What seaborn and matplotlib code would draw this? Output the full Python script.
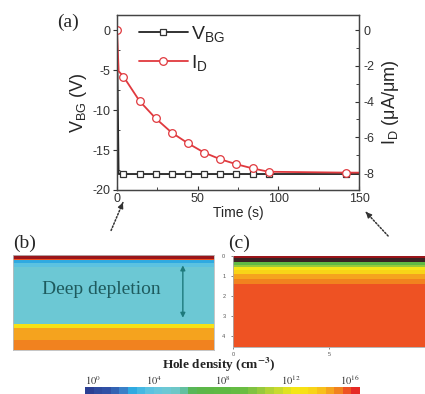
import numpy as np
import pandas as pd
import matplotlib
matplotlib.use("Agg")
import matplotlib.pyplot as plt
import seaborn as sns
from matplotlib.colors import ListedColormap, Normalize
from matplotlib.cm import ScalarMappable

# ---------------- data ----------------
time_v = [0, 1, 4, 14, 24, 34, 44, 54, 64, 74, 84, 94, 142, 150]
vbg = [0, -18, -18, -18, -18, -18, -18, -18, -18, -18, -18, -18, -18, -18]
time_i = [0, 1, 4, 14, 24, 34, 44, 54, 64, 74, 84, 94, 142, 150]
id_vals = [0, -2.3, -2.6, -3.97, -4.94, -5.74, -6.33, -6.85, -7.22, -7.5, -7.73, -7.92, -7.97, -7.97]

left_ticks = [0, -5, -10, -15, -20]
right_ticks = [0, -2, -4, -6, -8]
x_ticks = [0, 50, 100, 150]

# hole density (log10 cm^-3) layers, top to bottom: value, thickness (rows)
b_levels = [17, 15.2, 2.7, 3.7, 4.7, 12.7, 14.2, 14.7]
b_rows = [4, 1, 3, 4, 57, 4, 12, 10]
c_levels = [17, -1, 7.5, 10.2, 12.3, 13.3, 14.2, 14.7, 15.2]
c_rows = [2, 4, 3, 2, 3, 4, 5, 5, 63]
c_depth_ticks = [0, 1, 2, 3, 4]
c_x_ticks = [0, 5]
cbar_ticks = [0, 4, 8, 12, 16]
cbar_labels = ['$10^{0}$', '$10^{4}$', '$10^{8}$', '$10^{12}$', '$10^{16}$']

cmap_colors = ['#2B3F93', '#2E4A9E', '#3050A5', '#3363B3', '#3A80C8', '#2FAAE1',
               '#45B8E3', '#5BC2E1', '#66C6DC', '#6CC8D4', '#6DC7C7', '#62C0A0',
               '#58B658', '#5BB64A', '#5DB746', '#5FB944', '#5FB944', '#64BB43',
               '#6ABD42', '#80C241', '#97C93C', '#B2D235', '#C8DA2E', '#E0E221',
               '#F4E615', '#F7E115', '#F8D418', '#F8C01A', '#F5A31E', '#F1821F',
               '#EE5223', '#E62A26']

# ---------------- style ----------------
sns.set_style("ticks")
plt.rcParams['font.family'] = ['Liberation Sans', 'DejaVu Sans']
plt.rcParams['mathtext.fontset'] = 'stix'
plt.rcParams['axes.unicode_minus'] = False

fig = plt.figure(figsize=(4.25, 3.94), dpi=100)
W, H = 425.0, 394.0

def box(l, t, r, b):
    return [l / W, 1 - b / H, (r - l) / W, (b - t) / H]

# ---------------- panel (a) ----------------
ax = fig.add_axes(box(117, 15, 359, 190))
ax2 = ax.twinx()
dv = pd.DataFrame({'t': time_v, 'v': vbg})
di = pd.DataFrame({'t': time_i, 'i': id_vals})
sns.lineplot(data=dv, x='t', y='v', ax=ax, color='#222222', lw=1.3, marker='s',
             markersize=5, markerfacecolor='white', markeredgecolor='#333333',
             markeredgewidth=0.9, markevery=list(range(2, len(time_v) - 1)),
             estimator=None, sort=False, label=r'$\mathregular{V_{BG}}$', legend=False)
sns.lineplot(data=di, x='t', y='i', ax=ax2, color='#E0393E', lw=1.3, marker='o',
             markersize=5.5, markerfacecolor='white', markeredgecolor='#E0393E',
             markeredgewidth=0.9, markevery=[0] + list(range(2, len(time_i) - 1)),
             estimator=None, sort=False, label=r'$\mathregular{I_D}$', legend=False)
ax.set_xlim(0, 150)
ax.set_ylim(-20, 1.9)
ax2.set_ylim(-8.94, 0.84)
ax.set_xticks(x_ticks)
ax.set_xticks([25, 75, 125], minor=True)
ax.set_yticks(left_ticks)
ax.set_yticks([-2.5, -7.5, -12.5, -17.5], minor=True)
ax2.set_yticks(right_ticks)
ax2.set_yticks([-1, -3, -5, -7], minor=True)
ax.tick_params(axis='x', direction='in', labelsize=9, length=3, pad=2, colors='#333333')
ax.tick_params(axis='x', which='minor', direction='in', length=2)
ax.tick_params(axis='y', direction='out', labelsize=9, length=3, pad=2, colors='#333333')
ax.tick_params(axis='y', which='minor', direction='in', length=2)
ax2.tick_params(axis='y', direction='in', labelsize=9, length=3, pad=3, colors='#333333')
ax2.tick_params(axis='y', which='minor', direction='in', length=2)
for a in (ax, ax2):
    for s in a.spines.values():
        s.set_color('#444444')
        s.set_linewidth(0.9)
ax.set_xlabel('Time (s)', fontsize=10, labelpad=1)
ax.set_ylabel(r'$\mathregular{V_{BG}}$ (V)', fontsize=13, labelpad=2)
ax2.set_ylabel(r'$\mathregular{I_D}$ ($\mathregular{\mu}$A/$\mathregular{\mu}$m)', fontsize=13, labelpad=4)
h1, l1 = ax.get_legend_handles_labels()
h2, l2 = ax2.get_legend_handles_labels()
ax2.legend(h1 + h2, l1 + l2, loc='upper left', bbox_to_anchor=(0.075, 0.97),
           frameon=False, fontsize=14, handlelength=2.5, handletextpad=0.15,
           labelspacing=0.45, borderpad=0.2, borderaxespad=0)

fig.text(57 / W, 1 - 22 / H, '(a)', family='Liberation Serif', fontsize=14,
         ha='left', va='center')

# ---------------- colormap ----------------
cmap = ListedColormap(cmap_colors)
cmap.set_over('#9A151A')
cmap.set_under('#3A2424')

# ---------------- panel (b) ----------------
axb = fig.add_axes(box(13, 255, 214, 350))
b_prof = np.repeat(b_levels, b_rows)
b_data = np.tile(b_prof[:, None], (1, 20))
sns.heatmap(b_data, ax=axb, cmap=cmap, vmin=0, vmax=16, cbar=False,
            xticklabels=False, yticklabels=False)
for s in axb.spines.values():
    s.set_visible(True)
    s.set_color('#BBBBBB')
    s.set_linewidth(0.6)
axb.text(0.44, 0.64, 'Deep depletion', transform=axb.transAxes, family='Liberation Serif',
         fontsize=14, color='#1E5B5E', ha='center', va='center')
axb.annotate('', xy=(0.845, 0.92), xytext=(0.845, 0.31), xycoords='axes fraction',
             arrowprops=dict(arrowstyle='<|-|>', color='#1E7A7C', lw=1.0,
                             mutation_scale=7))
fig.text(13 / W, 1 - 243 / H, '(b)', family='Liberation Serif', fontsize=14,
         ha='left', va='center')

# ---------------- panel (c) ----------------
axc = fig.add_axes(box(233, 256, 425, 347))
c_prof = np.repeat(c_levels, c_rows)
c_data = np.tile(c_prof[:, None], (1, 10))
sns.heatmap(c_data, ax=axc, cmap=cmap, vmin=0, vmax=16, cbar=False,
            xticklabels=False, yticklabels=False)
axc.set_yticks([d * 20 for d in c_depth_ticks])
axc.set_yticklabels([str(d) for d in c_depth_ticks])
axc.set_xticks(c_x_ticks)
axc.set_xticklabels([str(x) for x in c_x_ticks])
axc.tick_params(axis='y', labelsize=4, length=1.5, width=0.5, colors='#555555', pad=4)
axc.tick_params(axis='x', labelsize=4, length=1.5, width=0.5, colors='#555555', pad=2)
for side in ('left', 'bottom'):
    axc.spines[side].set_visible(True)
    axc.spines[side].set_color('#AAAAAA')
    axc.spines[side].set_linewidth(0.6)
fig.text(228 / W, 1 - 243 / H, '(c)', family='Liberation Serif', fontsize=14,
         ha='left', va='center')

# ---------------- colorbar ----------------
cax = fig.add_axes(box(85, 387, 360, 396))
sm = ScalarMappable(norm=Normalize(0, 16), cmap=ListedColormap(cmap_colors))
cb = fig.colorbar(sm, cax=cax, orientation='horizontal')
cb.outline.set_visible(False)
cax.xaxis.set_ticks_position('top')
cax.set_xticks(cbar_ticks)
cax.set_xticklabels(cbar_labels, fontsize=7.5, color='#333333')
cax.tick_params(length=0, pad=0)
labs = cax.get_xticklabels()
labs[0].set_ha('left')
labs[-1].set_ha('right')
fig.text(219 / W, 1 - 365 / H, r'Hole density (cm$^{\mathbf{-3}}$)', family='Liberation Serif',
         fontsize=9.5, fontweight='bold', ha='center', va='center', color='#222222')

# ---------------- pointer arrows ----------------
for (x0, y0, x1, y1) in [(110, 233, 124, 200), (390, 238, 364, 210)]:
    fig.add_artist(matplotlib.patches.FancyArrowPatch(
        (x0 / W, 1 - y0 / H), (x1 / W, 1 - y1 / H), transform=fig.transFigure,
        arrowstyle='-', linestyle=(0, (1, 1.2)), color='#333333', lw=1.1))
    dx, dy = x1 - x0, y1 - y0
    n = np.hypot(dx, dy)
    fig.add_artist(matplotlib.patches.FancyArrowPatch(
        ((x1 - 6 * dx / n) / W, 1 - (y1 - 6 * dy / n) / H), (x1 / W, 1 - y1 / H),
        transform=fig.transFigure, arrowstyle='-|>', mutation_scale=8,
        color='#333333', lw=1.0))

fig.savefig('out.png', dpi=100, facecolor='white')
